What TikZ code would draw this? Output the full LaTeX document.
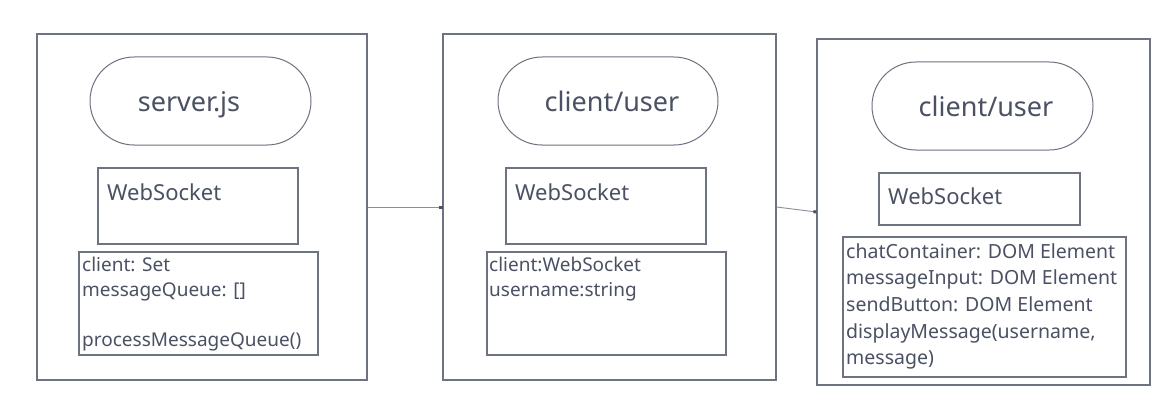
\documentclass[tikz,border=0pt]{standalone}
\usepackage{fontspec}
\setmainfont{Noto Sans}
\usetikzlibrary{arrows.meta}
\definecolor{strokec}{HTML}{6E7382}
\definecolor{textc}{HTML}{4A5163}
\definecolor{linec}{HTML}{8A8E9A}
\definecolor{tipc}{HTML}{4A5163}
\tikzset{
  outerbox/.style={draw=strokec, line width=1.2pt, rectangle, minimum width=330pt, minimum height=346pt, inner sep=0pt},
  stad/.style={draw=strokec, line width=1pt, rectangle, rounded corners=44pt, minimum width=221pt, minimum height=88pt, inner sep=0pt},
  inbox/.style={draw=strokec, line width=1.2pt, rectangle, inner sep=0pt},
  bigtxt/.style={text=textc, anchor=base, inner sep=0pt, font=\fontsize{27}{32}\selectfont},
  wstxt/.style={text=textc, anchor=base west, inner sep=0pt, font=\fontsize{22}{26}\selectfont},
  attxt/.style={text=textc, anchor=base west, inner sep=0pt, font=\fontsize{19}{25}\selectfont},
  attxtb/.style={text=textc, anchor=base west, inner sep=0pt, font=\fontsize{19.5}{26}\selectfont},
  conn/.style={draw=linec, line width=0.9pt, -{Square[length=3pt,width=3pt,fill=tipc,color=tipc]}},
}
\begin{document}
\begin{tikzpicture}[x=1pt,y=1pt]
\useasboundingbox[fill=white] (0,0) rectangle (1172,-409);
% outer frames
\node[outerbox] (o1) at (202,-207) {};
\node[outerbox, minimum width=333pt] (o2) at (609.5,-207) {};
\node[outerbox, minimum width=333pt] (o3) at (983.5,-212) {};
% stadiums
\node[stad] (e1) at (200.5,-101) {};
\node[stad, minimum width=220pt] (e2) at (608,-101) {};
\node[stad] (e3) at (982.5,-106) {};
\node[bigtxt] (e1t) at (189,-112) {server.js};
\node[bigtxt] (e2t) at (612,-112) {client/user};
\node[bigtxt] (e3t) at (986,-117) {client/user};
% websocket boxes
\node[inbox, minimum width=200pt, minimum height=76pt] (w1) at (198,-206) {};
\node[inbox, minimum width=200pt, minimum height=76pt] (w2) at (606,-206) {};
\node[inbox, minimum width=201pt, minimum height=52pt] (w3) at (979.5,-199) {};
\node[wstxt] (w1t) at (107,-200) {WebSocket};
\node[wstxt] (w2t) at (515,-200) {WebSocket};
\node[wstxt] (w3t) at (888,-204) {WebSocket};
% attribute boxes
\node[inbox, minimum width=239pt, minimum height=103pt] (a1) at (198.5,-303.5) {};
\node[inbox, minimum width=239pt, minimum height=103pt] (a2) at (606.5,-303.5) {};
\node[inbox, minimum width=283pt, minimum height=140pt] (a3) at (984.5,-307) {};
\node[attxt] (a1l1) at (82,-271) {client: Set};
\node[attxt] (a1l2) at (82,-296) {messageQueue: []};
\node[attxt] (a1l3) at (82,-346) {processMessageQueue()};
\node[attxt] (a2l1) at (489,-271) {client:WebSocket};
\node[attxt] (a2l2) at (489,-296) {username:string};
\node[attxtb] (a3l1) at (846,-258) {chatContainer: DOM Element};
\node[attxtb] (a3l2) at (846,-284.7) {messageInput: DOM Element};
\node[attxtb] (a3l3) at (846,-311.3) {sendButton: DOM Element};
\node[attxtb] (a3l4) at (846,-338) {displayMessage(username,};
\node[attxtb] (a3l5) at (846,-364.7) {message)};
% connectors
\draw[conn] (o1.east) -- (o2.west);
\draw[conn] (o2.east) -- (o3.west);
\end{tikzpicture}
\end{document}
